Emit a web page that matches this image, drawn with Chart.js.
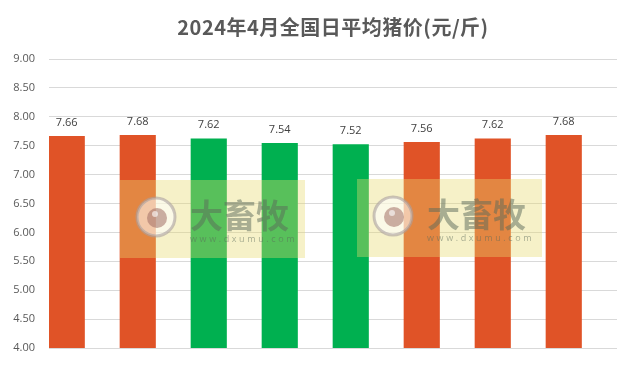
<!DOCTYPE html>
<html>
<head>
<meta charset="utf-8">
<script src="https://cdn.jsdelivr.net/npm/chart.js@4/dist/chart.umd.min.js"></script>
<style>
  html, body { margin: 0; padding: 0; background: #fff; }
  #wrap { width: 631px; height: 374px; }
</style>
</head>
<body>
<div id="wrap"><canvas id="chart" width="631" height="374"></canvas></div>
<script>
// data
const titleText = '2024年4月全国日平均猪价(元/斤)';
const days = ['1', '2', '3', '4', '5', '6', '7', '8'];
const prices = [7.66, 7.68, 7.62, 7.54, 7.52, 7.56, 7.62, 7.68];
const upDown = ['up', 'up', 'down', 'down', 'down', 'up', 'up', 'up'];

const RED = '#E05327';
const GREEN = '#00B050';
const barColors = upDown.map(d => d == 'up' ? RED : GREEN);

// title centred over the plot area
const titlePlugin = {
  id: 'titleDraw',
  afterDraw(chart) {
    const ctx = chart.ctx;
    const area = chart.chartArea;
    ctx.save();
    ctx.font = 'bold 20px "Noto Sans CJK SC", sans-serif';
    ctx.fillStyle = '#595959';
    ctx.textAlign = 'center';
    ctx.textBaseline = 'middle';
    ctx.letterSpacing = '0.5px';
    ctx.fillText(titleText, (area.left + area.right) / 2, 27);
    ctx.restore();
  }
};

// value labels above bars
const labelPlugin = {
  id: 'valueLabels',
  afterDatasetsDraw(chart) {
    const ctx = chart.ctx;
    const meta = chart.getDatasetMeta(0);
    ctx.save();
    ctx.font = '11px "Open Sans", sans-serif';
    ctx.fillStyle = '#404040';
    ctx.textAlign = 'center';
    ctx.textBaseline = 'middle';
    meta.data.forEach((bar, i) => {
      ctx.fillText(prices[i].toFixed(2), bar.x, bar.y - 13.5);
    });
    ctx.restore();
  }
};

// site watermark overlays
const marks = [{x: 120, y: 180}, {x: 357, y: 179}];
const watermarkPlugin = {
  id: 'watermark',
  afterDatasetsDraw(chart) {
    const ctx = chart.ctx;
    marks.forEach(m => {
      ctx.save();
      ctx.fillStyle = 'rgba(232,218,110,0.38)';
      ctx.fillRect(m.x, m.y, 185, 78);
      // eye logo
      const cx = m.x + 36, cy = m.y + 37;
      ctx.beginPath();
      ctx.arc(cx, cy, 19, 0, Math.PI * 2);
      ctx.fillStyle = 'rgba(255,255,255,0.55)';
      ctx.fill();
      ctx.lineWidth = 3;
      ctx.strokeStyle = 'rgba(170,160,160,0.6)';
      ctx.stroke();
      ctx.beginPath();
      ctx.arc(cx + 1, cy + 1, 10, 0, Math.PI * 2);
      ctx.fillStyle = 'rgba(160,110,100,0.55)';
      ctx.fill();
      ctx.beginPath();
      ctx.arc(cx - 1, cy - 3, 3, 0, Math.PI * 2);
      ctx.fillStyle = 'rgba(255,255,255,0.6)';
      ctx.fill();
      // text
      ctx.fillStyle = 'rgba(90,105,90,0.5)';
      ctx.textAlign = 'left';
      ctx.textBaseline = 'middle';
      ctx.font = 'bold 33px "Noto Sans CJK SC", sans-serif';
      ctx.fillText('大畜牧', m.x + 70, m.y + 35);
      ctx.font = '9px "Open Sans", sans-serif';
      ctx.letterSpacing = '2.6px';
      ctx.fillText('www.dxumu.com', m.x + 70, m.y + 59);
      ctx.restore();
    });
  }
};

const config = {
  type: 'bar',
  data: {
    labels: days,
    datasets: [
      { data: prices, backgroundColor: barColors, borderWidth: 0 },
      // empty second series keeps each bar on the left half of its slot
      { data: days.map(() => null), backgroundColor: 'rgba(0,0,0,0)' }
    ]
  },
  options: {
    responsive: false,
    animation: false,
    layout: { padding: { top: 59, right: 14, bottom: 18, left: 0 } },
    datasets: { bar: { categoryPercentage: 1, barPercentage: 1 } },
    plugins: {
      legend: { display: false },
      title: { display: false },
      tooltip: { enabled: false }
    },
    scales: {
      x: {
        grid: { display: false },
        border: { display: false },
        ticks: { display: false }
      },
      y: {
        min: 4,
        max: 9,
        afterFit(scale) { scale.width = 49; },
        ticks: {
          stepSize: 0.5,
          padding: 14,
          color: '#595959',
          font: { family: '"Open Sans", sans-serif', size: 11 },
          callback: v => v.toFixed(2)
        },
        grid: { color: '#d9d9d9', drawTicks: false },
        border: { display: false }
      }
    }
  },
  plugins: [watermarkPlugin, labelPlugin, titlePlugin]
};

let priceChart = new Chart(document.getElementById('chart').getContext('2d'), config);
</script>
</body>
</html>
